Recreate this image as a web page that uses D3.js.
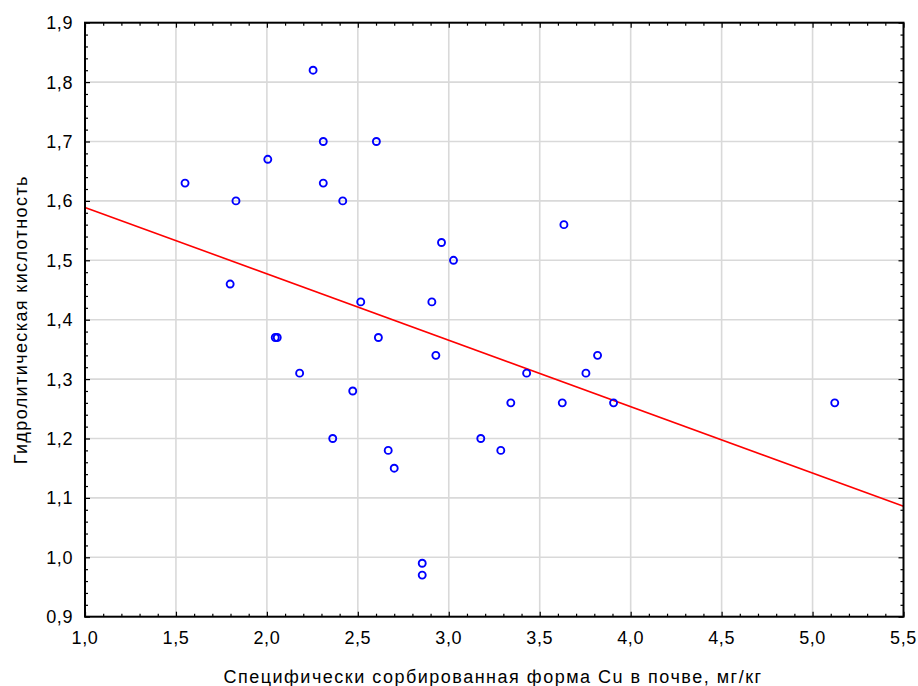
<!DOCTYPE html>
<html><head><meta charset="utf-8">
<script src="https://cdn.jsdelivr.net/npm/d3@7"></script>
<style>html,body{margin:0;padding:0;background:#fff}svg{display:block}</style>
</head><body>
<script>
// Data
const xValues = [1.55, 1.83, 2.005, 2.254, 2.31, 2.31, 2.417, 2.602, 2.96, 3.026,
  1.798, 2.046, 2.057, 2.18, 2.516, 2.907, 2.613, 2.929, 2.472, 2.362,
  2.667, 2.70, 2.854, 2.854, 3.633, 3.428, 3.341, 3.176, 3.286, 3.624,
  3.754, 3.818, 3.906, 5.122];
const yValues = [1.63, 1.60, 1.67, 1.82, 1.70, 1.63, 1.60, 1.70, 1.53, 1.50,
  1.46, 1.37, 1.37, 1.31, 1.43, 1.43, 1.37, 1.34, 1.28, 1.20,
  1.18, 1.15, 0.99, 0.97, 1.56, 1.31, 1.26, 1.20, 1.18, 1.26,
  1.31, 1.34, 1.26, 1.26];
const fitX = [1.0, 5.5];
const fitY = [1.589, 1.086];
const xTicks = [1.0, 1.5, 2.0, 2.5, 3.0, 3.5, 4.0, 4.5, 5.0, 5.5];
const yTicks = [0.9, 1.0, 1.1, 1.2, 1.3, 1.4, 1.5, 1.6, 1.7, 1.8, 1.9];
const xTitle = "Специфически сорбированная форма Cu в почве, мг/кг";
const yTitle = "Гидролитическая кислотность";

const W = 918, H = 686;
const m = {left: 85, right: 918 - 903.5, top: 22.7, bottom: 686 - 616.7};
const svg = d3.select("body").append("svg").attr("width", W).attr("height", H)
  .style("font-family", "Arial, 'Liberation Sans', sans-serif");
const x = d3.scaleLinear().domain([1.0, 5.5]).range([m.left, W - m.right]);
const y = d3.scaleLinear().domain([0.9, 1.9]).range([H - m.bottom, m.top]);

const fmt = v => d3.format(".1f")(v).replace(".", ",");
const gridColor = "#d9d9d9";

// grid
svg.append("g").selectAll("line").data(xTicks.slice(1, -1)).join("line")
  .attr("x1", d => x(d)).attr("x2", d => x(d)).attr("y1", y(0.9)).attr("y2", y(1.9))
  .attr("stroke", gridColor).attr("stroke-width", 1.6);
svg.append("g").selectAll("line").data(yTicks.slice(1, -1)).join("line")
  .attr("y1", d => y(d)).attr("y2", d => y(d)).attr("x1", x(1.0)).attr("x2", x(5.5))
  .attr("stroke", gridColor).attr("stroke-width", 1.6);

// regression line
svg.append("line")
  .attr("x1", x(fitX[0])).attr("y1", y(fitY[0]))
  .attr("x2", x(fitX[1])).attr("y2", y(fitY[1]))
  .attr("stroke", "#ff0000").attr("stroke-width", 1.6);

// points
svg.append("g").selectAll("circle").data(xValues.map((v, i) => [v, yValues[i]])).join("circle")
  .attr("cx", d => x(d[0])).attr("cy", d => y(d[1])).attr("r", 3.5)
  .attr("fill", "none").attr("stroke", "#0000ff").attr("stroke-width", 1.9);

// axes with inner ticks on all sides
const xMinor = d3.range(10, 56).map(v => v / 10).filter(v => Math.abs(v * 2 - Math.round(v * 2)) > 1e-6);
const yMinor = d3.range(45, 96).map(v => v / 50).filter(v => Math.abs(v * 10 - Math.round(v * 10)) > 1e-6);

function axis(gen, tr, ticks, size) {
  const g = svg.append("g").attr("transform", tr).call(gen.tickValues(ticks).tickSize(size).tickFormat(""));
  g.select(".domain").remove();
  g.selectAll("line").attr("stroke", "#000").attr("stroke-width", 1.2);
  return g;
}
const bY = y(0.9), tY = y(1.9), lX = x(1.0), rX = x(5.5);
axis(d3.axisTop(x), `translate(0,${bY})`, xTicks, 5);
axis(d3.axisTop(x), `translate(0,${bY})`, xMinor, 3);
axis(d3.axisBottom(x), `translate(0,${tY})`, xTicks, 5);
axis(d3.axisBottom(x), `translate(0,${tY})`, xMinor, 3);
axis(d3.axisRight(y), `translate(${lX},0)`, yTicks, 5);
axis(d3.axisRight(y), `translate(${lX},0)`, yMinor, 3);
axis(d3.axisLeft(y), `translate(${rX},0)`, yTicks, 5);
axis(d3.axisLeft(y), `translate(${rX},0)`, yMinor, 3);

// frame
svg.append("rect").attr("x", lX).attr("y", tY).attr("width", rX - lX).attr("height", bY - tY)
  .attr("fill", "none").attr("stroke", "#000").attr("stroke-width", 2);

// tick labels
svg.append("g").selectAll("text").data(xTicks).join("text")
  .attr("x", d => x(d)).attr("y", bY + 27).attr("text-anchor", "middle")
  .attr("font-size", 18).attr("letter-spacing", 0.6).attr("fill", "#000").text(fmt);
svg.append("g").selectAll("text").data(yTicks).join("text")
  .attr("x", lX - 12).attr("y", d => y(d) + 6.5).attr("text-anchor", "end")
  .attr("font-size", 18).attr("letter-spacing", 0.6).attr("fill", "#000").text(fmt);

// titles
svg.append("text").attr("x", 493).attr("y", 683).attr("text-anchor", "middle")
  .attr("font-size", 18).attr("letter-spacing", 1.5).attr("fill", "#000").text(xTitle);
svg.append("text").attr("transform", `translate(27,${(tY + bY) / 2}) rotate(-90)`)
  .attr("text-anchor", "middle").attr("font-size", 18).attr("letter-spacing", 1.4)
  .attr("fill", "#000").text(yTitle);
</script>
</body></html>
